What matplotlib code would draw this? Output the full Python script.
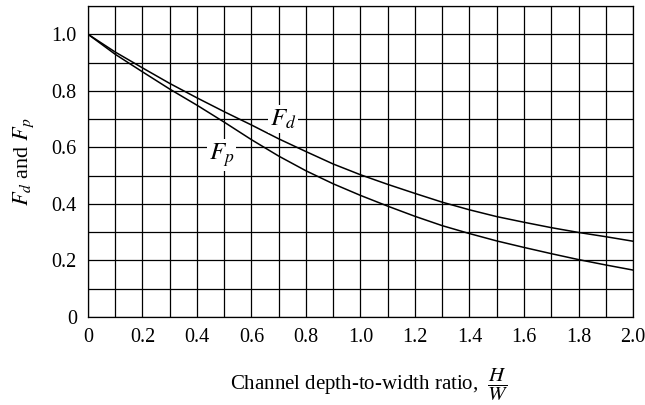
import matplotlib
matplotlib.use("Agg")
import matplotlib.pyplot as plt
import numpy as np

plt.rcParams['font.family'] = ['Liberation Serif', 'DejaVu Serif']
plt.rcParams['mathtext.fontset'] = 'stix'

# H/W ratio and the two shape factors
ratio = [0, 0.1, 0.2, 0.3, 0.4, 0.5, 0.6, 0.7, 0.8, 0.9, 1.0,
         1.1, 1.2, 1.3, 1.4, 1.5, 1.6, 1.7, 1.8, 1.9, 2.0]
f_d = [1.0, 0.937, 0.881, 0.826, 0.775, 0.726, 0.679, 0.630, 0.585, 0.541, 0.503,
       0.469, 0.437, 0.406, 0.379, 0.355, 0.335, 0.316, 0.299, 0.284, 0.268]
f_p = [1.0, 0.929, 0.867, 0.806, 0.749, 0.689, 0.627, 0.569, 0.517, 0.471, 0.430,
       0.392, 0.356, 0.323, 0.295, 0.269, 0.246, 0.224, 0.203, 0.184, 0.166]

xticks = np.arange(0, 2.01, 0.2)
xtick_labels = ['0', '0.2', '0.4', '0.6', '0.8', '1.0', '1.2', '1.4', '1.6', '1.8', '2.0']
yticks = np.arange(0, 1.01, 0.2)
ytick_labels = ['0', '0.2', '0.4', '0.6', '0.8', '1.0']

fig = plt.figure(figsize=(6.45, 4.05), dpi=100)
ax = fig.add_axes([0.1364, 0.2173, 0.845, 0.768])

ax.plot(ratio, f_d, color='black', lw=1.1, zorder=3)
ax.plot(ratio, f_p, color='black', lw=1.1, zorder=3)

ax.set_xlim(0, 2.0)
ax.set_ylim(0, 1.1)
ax.set_xticks(np.arange(0, 2.01, 0.1), minor=True)
ax.set_yticks(np.arange(0, 1.11, 0.1), minor=True)
ax.set_xticks(xticks)
ax.set_xticklabels(xtick_labels)
ax.set_yticks(yticks)
ax.set_yticklabels(ytick_labels)
ax.grid(True, which='both', color='black', lw=0.9)
ax.tick_params(which='both', length=0, labelsize=14.5)
ax.tick_params(axis='x', pad=8)
ax.tick_params(axis='y', pad=8)
for s in ax.spines.values():
    s.set_linewidth(0.9)

bbox = dict(facecolor='white', edgecolor='none', pad=1.5)
ax.text(0.715, 0.70, r'$F_d$', fontsize=18, ha='center', va='center', bbox=bbox, zorder=4)
ax.text(0.49, 0.572, r'$F_p$', fontsize=18, ha='center', va='center', bbox=bbox, zorder=4)

ax.set_ylabel(r'$F_d$ and $F_p$', fontsize=16, labelpad=11)
fig.text(0.573, 0.05, r'Channel depth-to-width ratio,  $\dfrac{H}{W}$', fontsize=15,
         ha='center', va='center')

fig.savefig('out.png', dpi=100)
